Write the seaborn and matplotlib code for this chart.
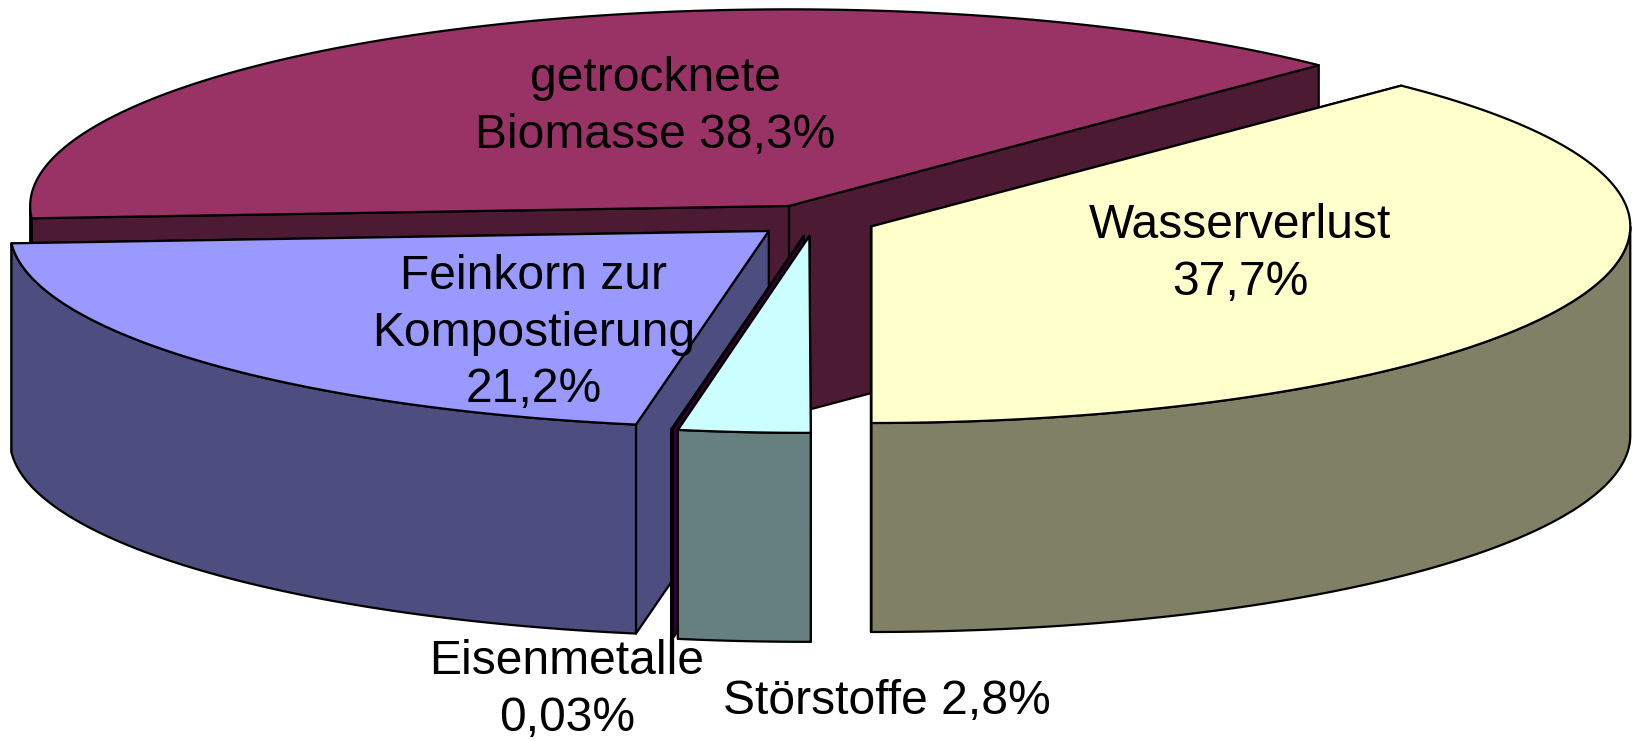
# ── exploded 3D-look pie, mass balance ──
import numpy as np
import matplotlib
matplotlib.use('Agg')
import matplotlib.pyplot as plt
import seaborn as sns

# values, going counter-clockwise from the front of the pie
slice_names  = ['Wasserverlust', 'getrocknete Biomasse', 'Feinkorn', 'Eisenmetalle', 'Störstoffe']
slice_shares = [37.7, 38.3, 21.2, 0.03, 2.8]
slice_colors = ['#FFFFCC', '#993366', '#9999FF', '#660066', '#CCFFFF']

label_texts = ['Wasserverlust\n37,7%', 'getrocknete\nBiomasse 38,3%',
               'Feinkorn zur\nKompostierung\n21,2%', 'Eisenmetalle\n0,03%',
               'Störstoffe 2,8%']
label_x = [1240, 655, 534, 567, 887]
label_y = [254, 107, 333, 690, 702]

# back to front
draw_order = [1, 0, 2, 3, 4]

# pie geometry in pixels
CX, CY = 814.6, 220.4
RX, RY = 758.8, 196.6
DEPTH = 209
EXPLODE = 61.4

sns.set_style('white')
plt.rcParams['font.family'] = ['Liberation Sans', 'DejaVu Sans']

fig, ax = plt.subplots(figsize=(16.38, 7.41), dpi=100)
ax.set_position([0, 0, 1, 1])
ax.set_xlim(0, 1638)
ax.set_ylim(741, 0)
ax.axis('off')

palette = sns.color_palette(slice_colors)

# slice angles from the shares, start at the bottom of the ellipse
edges = -90 + np.cumsum([0] + slice_shares) * 3.6


def face(points, color):
    ax.fill(*zip(*points), facecolor=color, edgecolor='black', linewidth=1.6,
            joinstyle='round')


for i in draw_order:
    t0, t1 = edges[i], edges[i + 1]
    mid = np.radians((t0 + t1) / 2)
    x0 = CX + EXPLODE * np.cos(mid)
    y0 = CY - EXPLODE * (RY / RX) * np.sin(mid)

    theta = np.radians(np.linspace(t0, t1, 300))
    rim = np.column_stack([x0 + RX * np.cos(theta), y0 - RY * np.sin(theta)])
    apex = (x0, y0)
    top = palette[i]
    side = tuple(c * 0.5 for c in top)

    # the two cut faces
    for p in (rim[0], rim[-1]):
        face([apex, p, (p[0], p[1] + DEPTH), (x0, y0 + DEPTH)], side)

    # outer wall, only the front half of the rim shows
    front = rim[np.sin(theta) <= 0]
    if len(front) > 1:
        lower = front[::-1] + [0, DEPTH]
        face(np.vstack([front, lower]), side)

    face(np.vstack([[apex], rim]), top)

for txt, x, y in zip(label_texts, label_x, label_y):
    ax.text(x, y, txt, fontsize=34.6, ha='center', va='center', color='black',
            linespacing=1.32)

fig.savefig('out.png', dpi=100, facecolor='white')
